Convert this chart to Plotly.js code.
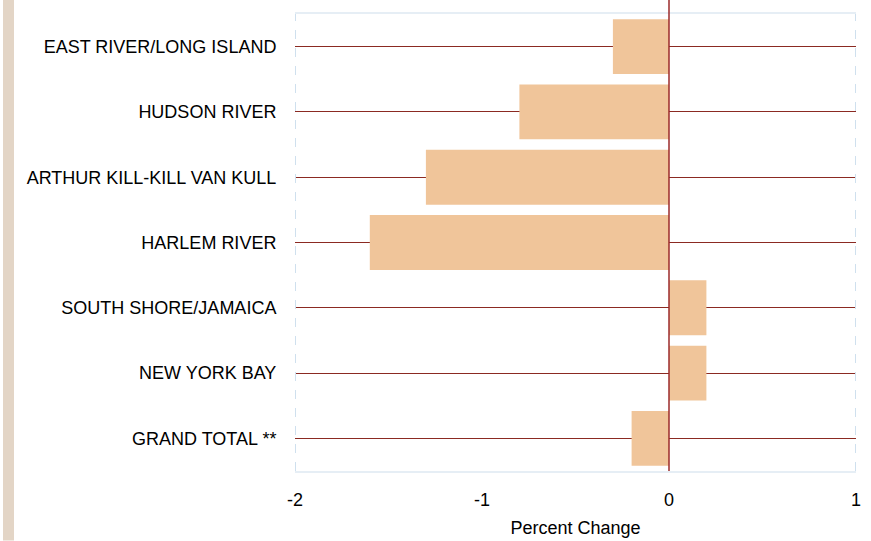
<!DOCTYPE html>
<html>
<head>
<meta charset="utf-8">
<script src="https://cdn.plot.ly/plotly-3.0.1.min.js"></script>
<style>html,body{margin:0;padding:0;background:#fff;}#chart{width:871px;height:541px;}</style>
</head>
<body>
<div id="chart"></div>
<script>
const categories = ["EAST RIVER/LONG ISLAND","HUDSON RIVER","ARTHUR KILL-KILL VAN KULL","HARLEM RIVER","SOUTH SHORE/JAMAICA","NEW YORK BAY","GRAND TOTAL **"];
const percentChange = [-0.3, -0.8, -1.3, -1.6, 0.2, 0.2, -0.2];
const xTicks = [-2, -1, 0, 1];

const trace = {
  type: 'bar',
  orientation: 'h',
  y: categories,
  x: percentChange,
  marker: {color: '#F0C59A', line: {width: 0}},
  hoverinfo: 'x+y'
};

const layout = {
  width: 871, height: 541,
  margin: {l: 295, r: 15, t: 14, b: 70},
  paper_bgcolor: '#fff', plot_bgcolor: '#fff',
  showlegend: false,
  bargap: 0.16,
  font: {family: '"Liberation Sans", Arial, sans-serif', size: 18, color: '#000'},
  xaxis: {
    range: [-2, 1], tickvals: xTicks, ticktext: xTicks.map(String),
    showgrid: false, zeroline: false,
    ticks: 'outside', ticklen: 11, tickcolor: 'rgba(0,0,0,0)',
    showline: true, linecolor: '#E6EEF5', linewidth: 2, mirror: true,
    title: {text: 'Percent Change', font: {size: 18}, standoff: 13}
  },
  yaxis: {
    autorange: 'reversed',
    showgrid: true, gridcolor: '#8B2A22', gridwidth: 1,
    ticks: 'outside', ticklen: 14, tickcolor: 'rgba(0,0,0,0)',
    showline: false, zeroline: false
  },
  shapes: [
    {type: 'line', xref: 'x', yref: 'paper', x0: -1, x1: -1, y0: 0, y1: 1, line: {color: '#ffffff', width: 2}, layer: 'below'},
    {type: 'line', xref: 'x', yref: 'paper', x0: -2, x1: -2, y0: 0, y1: 1, line: {color: '#CFE0EE', width: 2, dash: 'dash'}, layer: 'above'},
    {type: 'line', xref: 'x', yref: 'paper', x0: 1, x1: 1, y0: 0, y1: 1, line: {color: '#CFE0EE', width: 2, dash: 'dash'}, layer: 'above'},
    {type: 'line', xref: 'x', yref: 'paper', x0: 0, x1: 0, y0: 0, y1: 1.031, line: {color: '#9B2A2A', width: 1.5}, layer: 'above'},
    {type: 'rect', xref: 'paper', yref: 'paper', x0: -0.5205, x1: -0.5009, y0: -0.152, y1: 1.031, line: {width: 0}, fillcolor: '#E3D5C6', layer: 'below'}
  ]
};

Plotly.newPlot('chart', [trace], layout, {displayModeBar: false, staticPlot: true});
</script>
</body>
</html>
